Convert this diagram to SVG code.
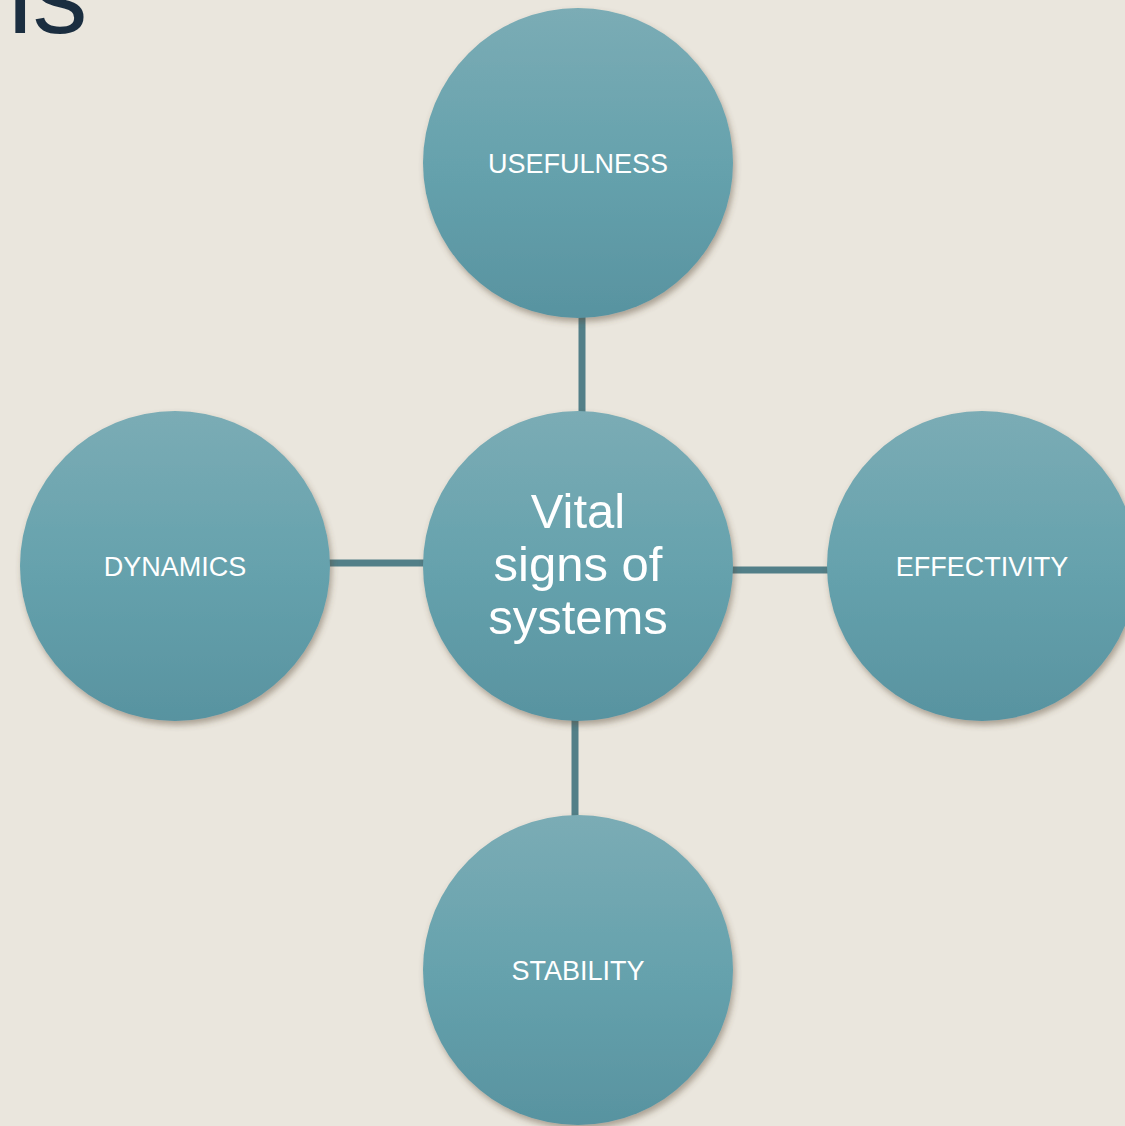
<svg xmlns="http://www.w3.org/2000/svg" width="1125" height="1126" viewBox="0 0 1125 1126">
  <defs>
    <linearGradient id="ballFill" x1="0" y1="0" x2="0" y2="1">
      <stop offset="0" stop-color="#7BACB5"/>
      <stop offset="0.5" stop-color="#66A2AD"/>
      <stop offset="1" stop-color="#5893A0"/>
    </linearGradient>
    <filter id="softShadow" x="-20%" y="-20%" width="140%" height="140%">
      <feGaussianBlur in="SourceAlpha" stdDeviation="3"/>
      <feOffset dx="2" dy="4" result="blur"/>
      <feFlood flood-color="#5A4A36" flood-opacity="0.45"/>
      <feComposite in2="blur" operator="in"/>
      <feMerge>
        <feMergeNode/>
        <feMergeNode in="SourceGraphic"/>
      </feMerge>
    </filter>
    <style>
      .ball { fill: url(#ballFill); filter: url(#softShadow); }
      .label { fill: #FFFFFF; font-family: "Liberation Sans", Arial, sans-serif; font-size: 27px; text-anchor: middle; }
      .hub { fill: #FFFFFF; font-family: "Liberation Sans", Arial, sans-serif; font-size: 49px; text-anchor: middle; }
      .link { stroke: #527F88; stroke-width: 7; fill: none; }
    </style>
  </defs>

  <rect x="0" y="0" width="1125" height="1126" fill="#EAE6DD"/>

  <!-- title fragment at the top edge -->
  <text x="8" y="33" font-family="'Liberation Sans', Arial, sans-serif" font-size="110" fill="#1B2E40">is</text>

  <!-- spokes linking the hub to its four satellites -->
  <g id="connectors">
    <line class="link" x1="582" y1="316" x2="582" y2="414"/>
    <line class="link" x1="328" y1="563" x2="426" y2="563"/>
    <line class="link" x1="731" y1="570" x2="829" y2="570"/>
    <line class="link" x1="575" y1="719" x2="575" y2="818"/>
  </g>

  <g id="node-usefulness">
    <circle class="ball" cx="578" cy="163" r="155"/>
    <text class="label" x="578" y="173">USEFULNESS</text>
  </g>

  <g id="node-dynamics">
    <circle class="ball" cx="175" cy="566" r="155"/>
    <text class="label" x="175" y="576">DYNAMICS</text>
  </g>

  <g id="node-effectivity">
    <circle class="ball" cx="982" cy="566" r="155"/>
    <text class="label" x="982" y="576">EFFECTIVITY</text>
  </g>

  <g id="node-stability">
    <circle class="ball" cx="578" cy="970" r="155"/>
    <text class="label" x="578" y="980">STABILITY</text>
  </g>

  <g id="node-vital-signs">
    <circle class="ball" cx="578" cy="566" r="155"/>
    <text class="hub" x="578" y="528">Vital</text>
    <text class="hub" x="578" y="581">signs of</text>
    <text class="hub" x="578" y="634">systems</text>
  </g>
</svg>
